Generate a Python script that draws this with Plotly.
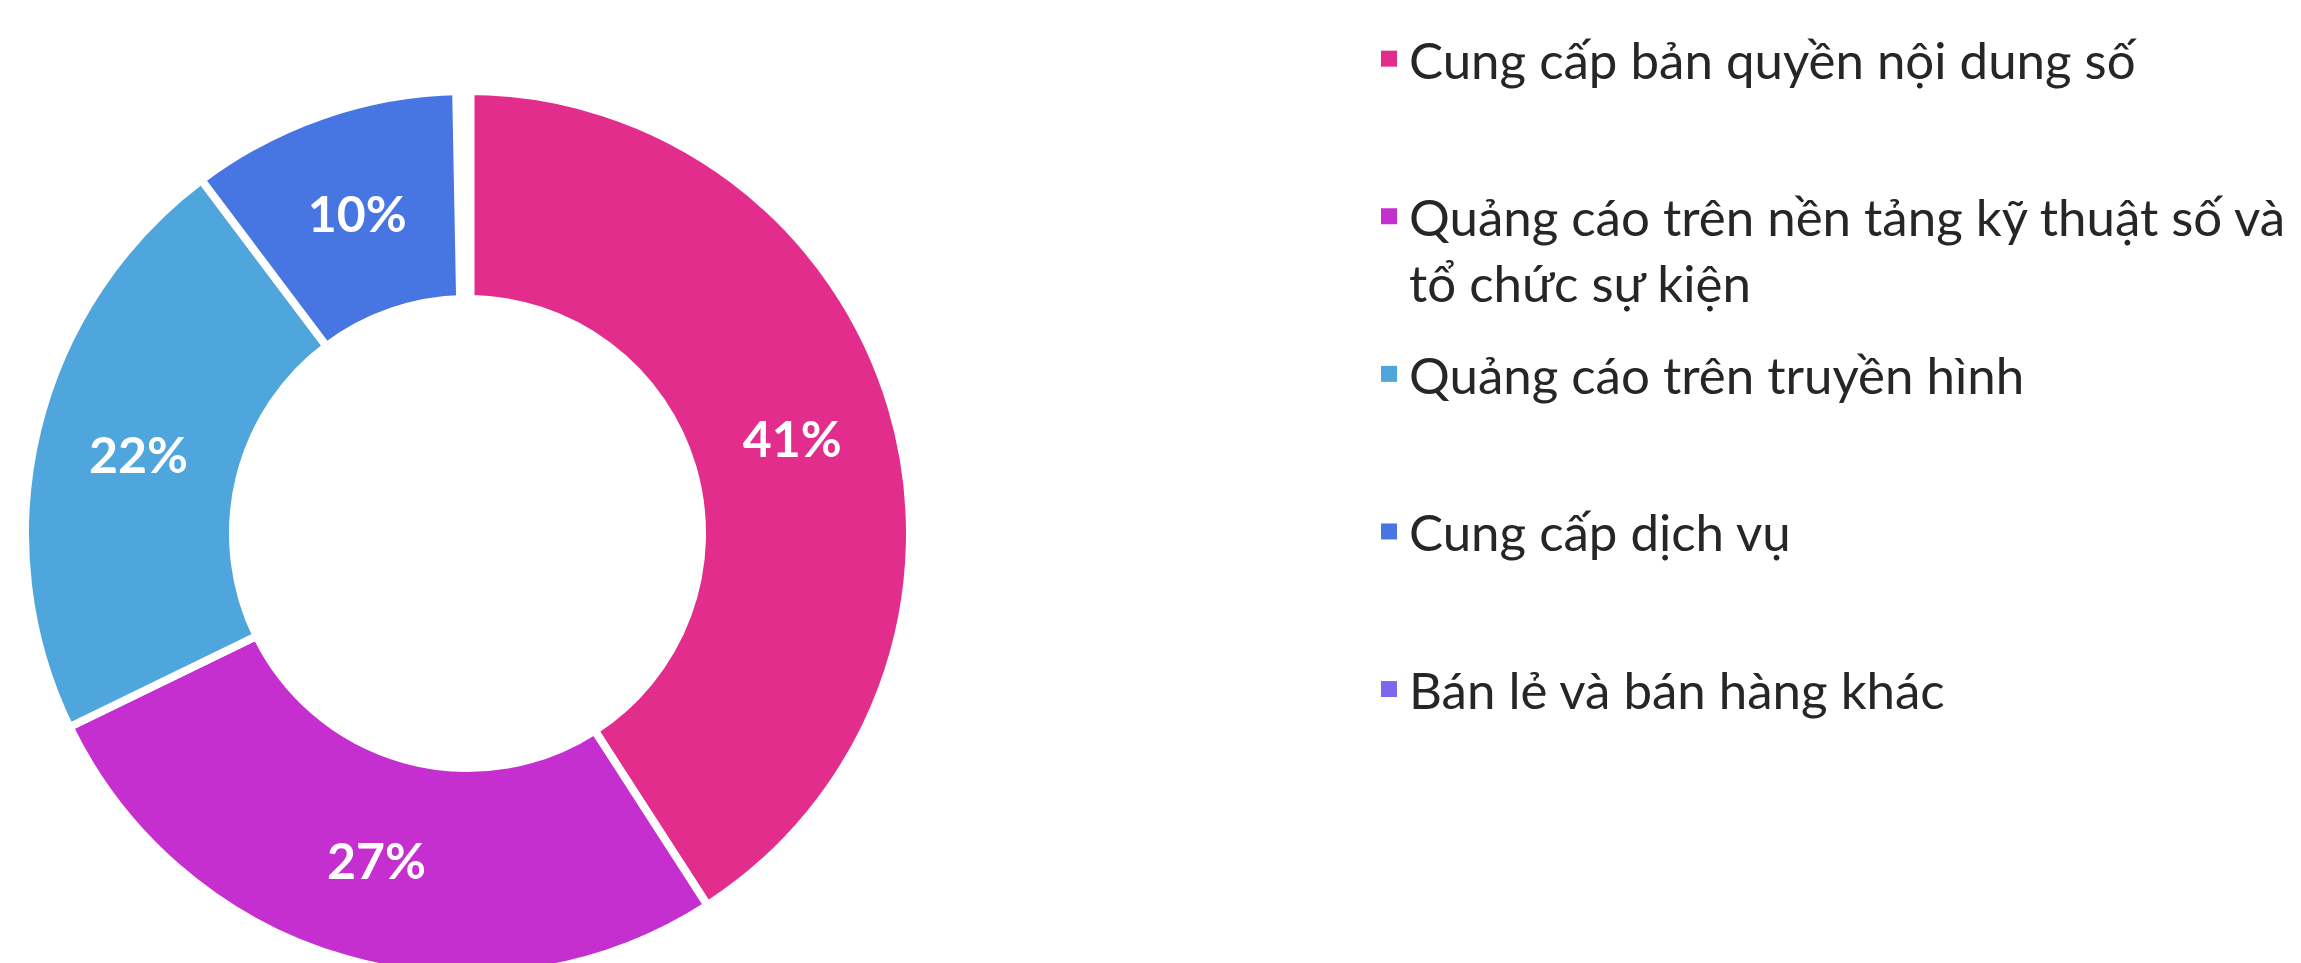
import plotly.graph_objects as go

W, H = 2301, 968

categories = [
    "Cung cấp bản quyền nội dung số",
    "Quảng cáo trên nền tảng kỹ thuật số và tổ chức sự kiện",
    "Quảng cáo trên truyền hình",
    "Cung cấp dịch vụ",
    "Bán lẻ và bán hàng khác",
]
legend_lines = [
    ["Cung cấp bản quyền nội dung số", " "],
    ["Quảng cáo trên nền tảng kỹ thuật số và", "tổ chức sự kiện"],
    ["Quảng cáo trên truyền hình", " "],
    ["Cung cấp dịch vụ", " "],
    ["Bán lẻ và bán hàng khác", " "],
]
values = [41, 27, 22, 10, 0.3]
colors = ["#E32D8D", "#C52FCF", "#4FA6DD", "#4776E3", "#7B68EE"]
show_label = [True, True, True, True, False]
border_widths = [8, 8, 8, 8, 14]

# donut geometry (pixels, figure coordinates)
cx, cy, R = 459.5, 525.5, 442.5
x0, x1 = (cx - R) / W, (cx + R) / W
y0, y1 = (H - cy - R) / H, (H - cy + R) / H

fig = go.Figure()
fig.add_trace(
    go.Pie(
        labels=categories,
        values=values,
        sort=False,
        direction="clockwise",
        rotation=0,
        hole=0.530,
        marker=dict(colors=colors, line=dict(color="white", width=border_widths)),
        texttemplate=["%{percent:.0%}" if s else "" for s in show_label],
        textposition="inside",
        insidetextorientation="horizontal",
        insidetextfont=dict(family="Lato", size=50, color="white", weight="bold"),
        domain=dict(x=[max(x0, 0), x1], y=[max(y0, 0), min(y1, 1)]),
        hoverinfo="label+percent",
        showlegend=False,
    )
)

# legend entries (same categories / colours as the slices)
for i, (cat, lines, col) in enumerate(zip(categories, legend_lines, colors)):
    fig.add_trace(
        go.Scatter(
            x=[None],
            y=[None],
            mode="markers",
            name="<br>".join(lines),
            legendgroup=f"g{i}",
            marker=dict(symbol="square", size=18, color=col, line=dict(width=0)),
            showlegend=True,
            hoverinfo="skip",
        )
    )

fig.update_layout(
    width=W,
    height=H,
    margin=dict(l=0, r=0, t=0, b=0),
    paper_bgcolor="white",
    plot_bgcolor="white",
    xaxis=dict(visible=False, domain=[0.99, 1.0]),
    yaxis=dict(visible=False, domain=[0.99, 1.0]),
    showlegend=True,
    legend=dict(
        x=1361 / W,
        y=1 - 11 / H,
        xanchor="left",
        yanchor="top",
        valign="top",
        font=dict(family="Lato", size=51, color="#262626"),
        bgcolor="rgba(0,0,0,0)",
        traceorder="grouped",
        tracegroupgap=22,
        itemclick=False,
        itemdoubleclick=False,
    ),
)

fig.write_html("out.html")
